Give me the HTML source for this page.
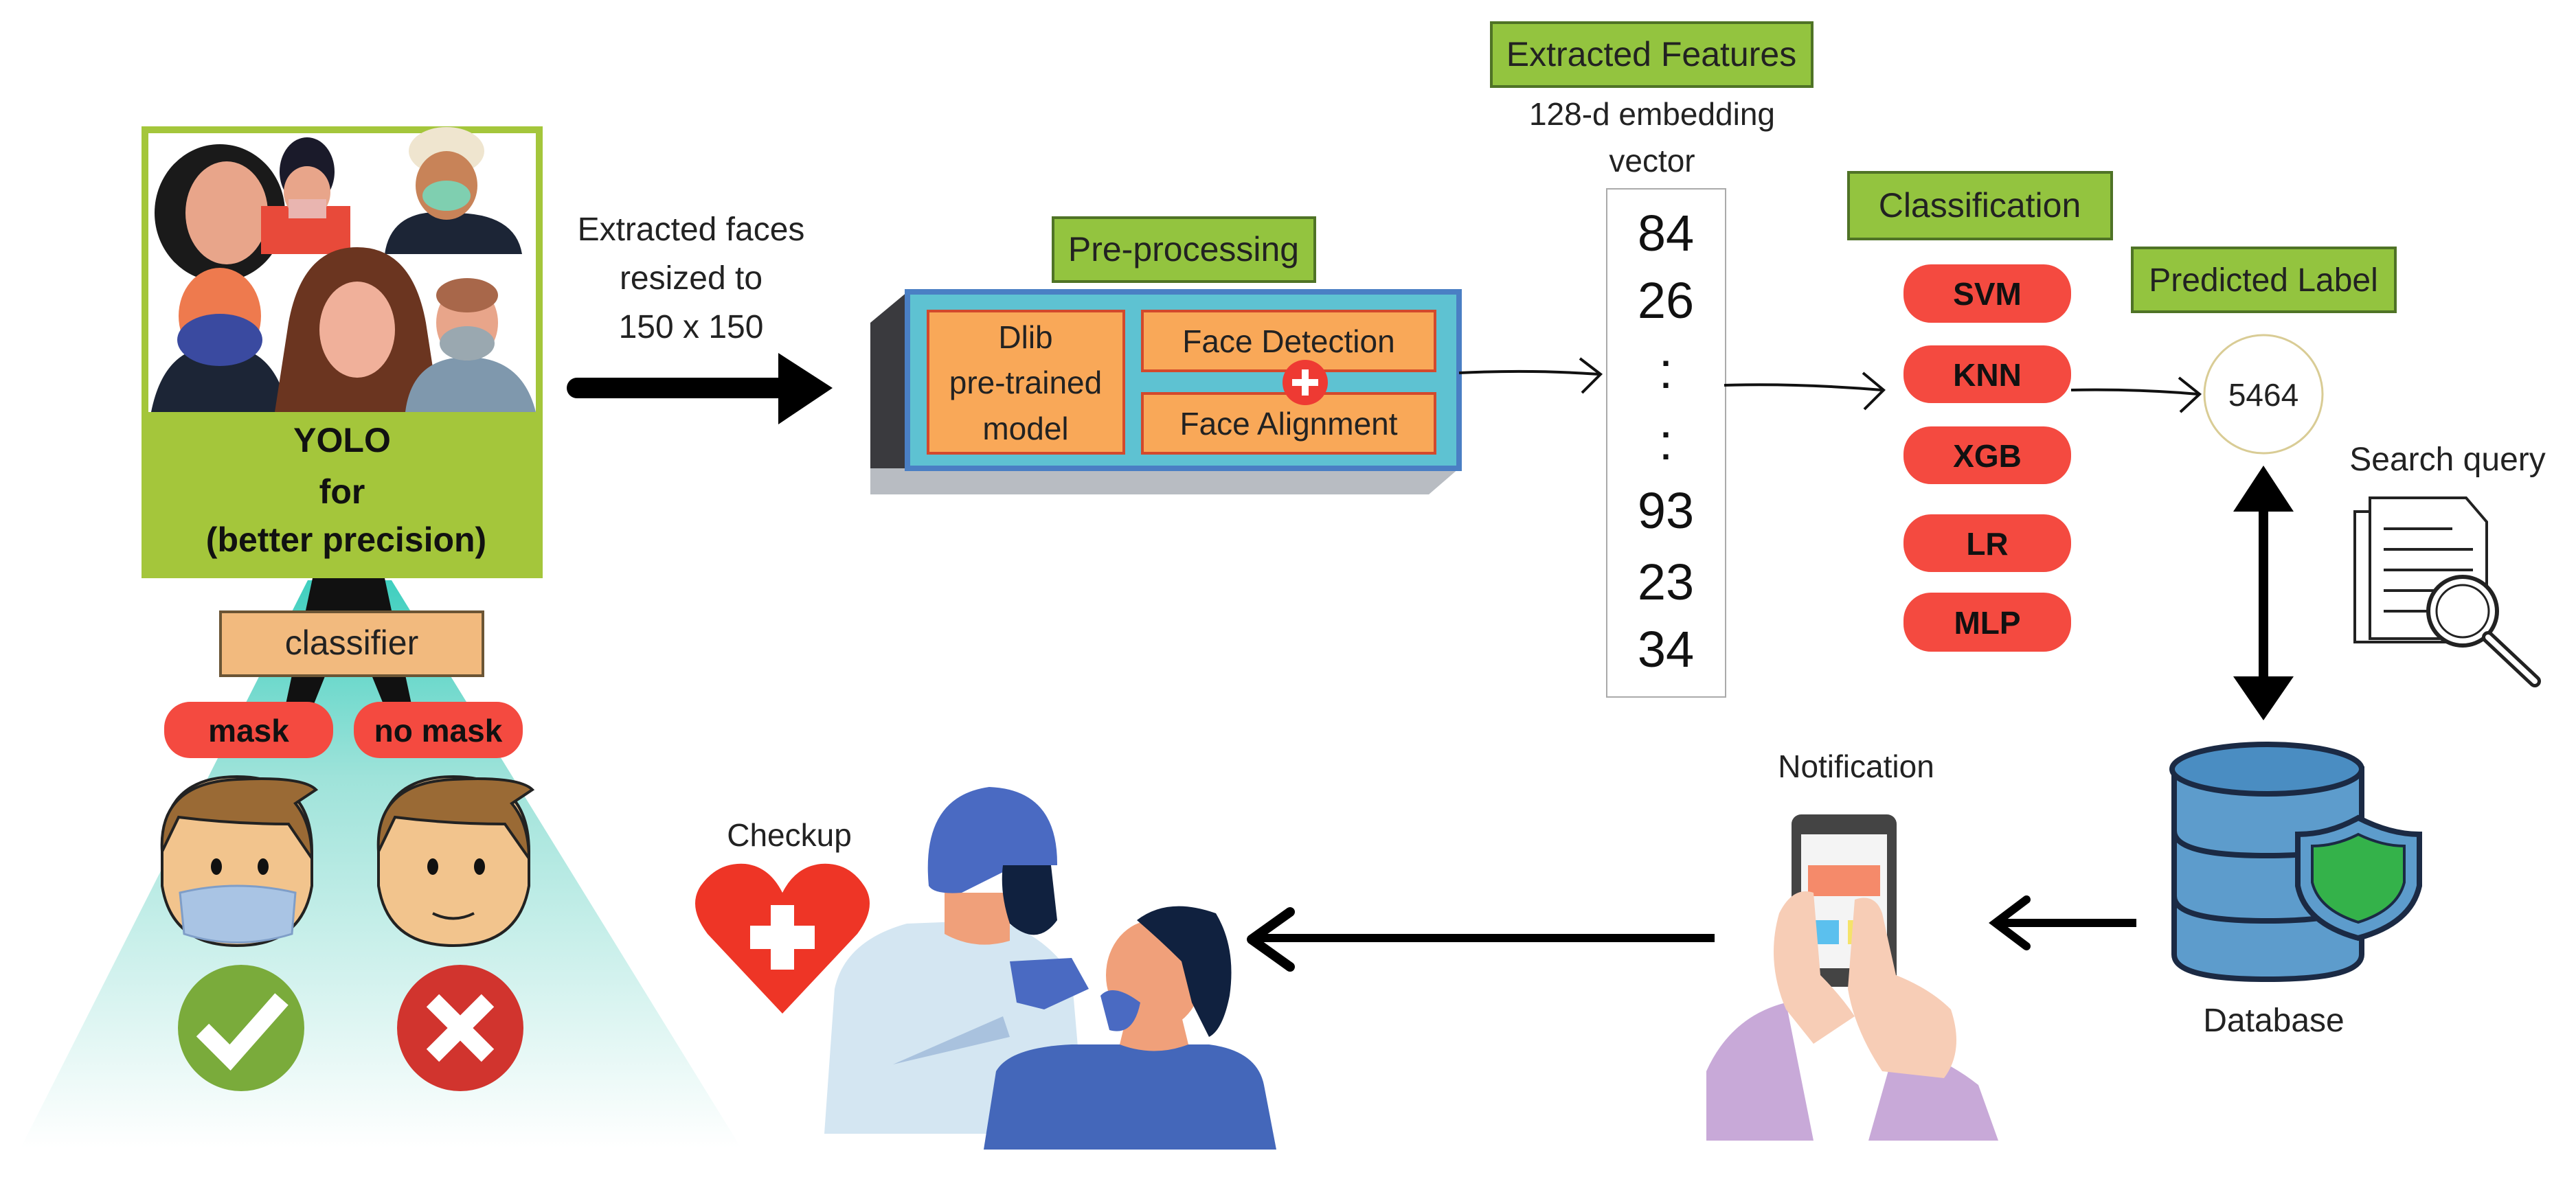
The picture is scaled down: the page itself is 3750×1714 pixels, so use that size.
<!DOCTYPE html>
<html><head><meta charset="utf-8"><style>
html,body{margin:0;padding:0;background:#fff;}
svg{display:block;}
text{font-family:"Liberation Sans",sans-serif;}
</style></head><body>
<svg width="3750" height="1714" viewBox="0 0 3750 1714" xmlns="http://www.w3.org/2000/svg">
<defs>
<linearGradient id="teal" x1="0" y1="0" x2="0" y2="1">
<stop offset="0" stop-color="#3fcfbf"/><stop offset="0.35" stop-color="#9fe3da"/><stop offset="1" stop-color="#ffffff"/>
</linearGradient>
</defs>
<rect width="3750" height="1714" fill="#fff"/>

<!-- teal trapezoid -->
<polygon points="448,845 570,845 1079,1672 30,1672" fill="url(#teal)"/>
<!-- black A lines -->
<polygon points="455,842 560,842 600,1030 560,1030 507,900 455,1030 415,1030" fill="#111"/>

<!-- YOLO box -->
<rect x="206" y="184" width="584" height="658" fill="#a4c63b"/>
<rect x="216" y="194" width="564" height="406" fill="#fff"/>
<!-- faces (simplified) -->
<g>
<ellipse cx="320" cy="310" rx="95" ry="100" fill="#1a1a1a"/>
<ellipse cx="330" cy="310" rx="60" ry="75" fill="#e8a58a"/>
<rect x="380" y="300" width="130" height="70" fill="#e84a3a"/>
<ellipse cx="447" cy="250" rx="40" ry="50" fill="#1a1a2a"/>
<ellipse cx="447" cy="280" rx="34" ry="38" fill="#e8a58a"/>
<rect x="420" y="290" width="55" height="28" fill="#e9b5b0"/>
<path d="M560 370 Q570 300 660 310 Q750 310 760 370 Z" fill="#1c2536"/>
<ellipse cx="650" cy="220" rx="55" ry="35" fill="#efe5cf"/>
<ellipse cx="650" cy="270" rx="45" ry="50" fill="#c88358"/>
<ellipse cx="650" cy="285" rx="35" ry="22" fill="#7fcfb0"/>
<path d="M220 600 Q240 500 320 505 Q400 500 420 600 Z" fill="#1c2536"/>
<ellipse cx="320" cy="460" rx="60" ry="70" fill="#ee7a4e"/>
<ellipse cx="320" cy="495" rx="62" ry="38" fill="#3a4aa0"/>
<path d="M400 600 L420 470 Q440 360 520 360 Q600 360 620 470 L640 600 Z" fill="#6b3520"/>
<ellipse cx="520" cy="480" rx="55" ry="70" fill="#f0b09a"/>
<path d="M590 600 Q600 520 680 520 Q760 520 780 600 Z" fill="#7f98ad"/>
<ellipse cx="680" cy="470" rx="45" ry="55" fill="#e8a58a"/>
<ellipse cx="680" cy="430" rx="45" ry="25" fill="#a8674a"/>
<ellipse cx="680" cy="500" rx="40" ry="25" fill="#9aa8b0"/>
</g>
<text x="498" y="658" font-size="50" font-weight="bold" text-anchor="middle" fill="#111">YOLO</text>
<text x="498" y="733" font-size="50" font-weight="bold" text-anchor="middle" fill="#111">for</text>
<text x="504" y="803" font-size="50" font-weight="bold" text-anchor="middle" fill="#111">(better precision)</text>

<!-- classifier -->
<rect x="321" y="891" width="382" height="93" fill="#f2ba7e" stroke="#6b5535" stroke-width="4"/>
<text x="512" y="953" font-size="50" text-anchor="middle" fill="#222">classifier</text>
<rect x="239" y="1022" width="246" height="82" rx="38" fill="#f44a40"/>
<text x="362" y="1080" font-size="46" font-weight="bold" text-anchor="middle" fill="#111">mask</text>
<rect x="515" y="1022" width="246" height="82" rx="38" fill="#f44a40"/>
<text x="638" y="1080" font-size="46" font-weight="bold" text-anchor="middle" fill="#111">no mask</text>

<!-- cartoon heads -->
<g>
<path d="M236 1240 Q236 1131 345 1131 Q454 1131 454 1240 L454 1290 Q440 1377 345 1377 Q250 1377 236 1290 Z" fill="#f2c48d" stroke="#222" stroke-width="4"/>
<path d="M236 1240 Q230 1140 345 1135 Q440 1130 460 1150 L430 1170 Q454 1200 454 1250 L420 1200 Q340 1200 260 1190 Z" fill="#9a6a35" stroke="#222" stroke-width="4"/>
<ellipse cx="315" cy="1262" rx="8" ry="12" fill="#111"/><ellipse cx="383" cy="1262" rx="8" ry="12" fill="#111"/>
<path d="M262 1300 Q345 1280 430 1300 L425 1360 Q345 1385 268 1360 Z" fill="#a9c4e4" stroke="#7f9ec8" stroke-width="3"/>
<path d="M551 1240 Q551 1131 660 1131 Q770 1131 770 1240 L770 1290 Q755 1377 660 1377 Q565 1377 551 1290 Z" fill="#f2c48d" stroke="#222" stroke-width="4"/>
<path d="M551 1240 Q545 1140 660 1135 Q755 1130 775 1150 L745 1170 Q770 1200 770 1250 L735 1200 Q655 1200 575 1190 Z" fill="#9a6a35" stroke="#222" stroke-width="4"/>
<ellipse cx="630" cy="1262" rx="8" ry="12" fill="#111"/><ellipse cx="698" cy="1262" rx="8" ry="12" fill="#111"/>
<path d="M630 1330 Q660 1345 690 1330" fill="none" stroke="#222" stroke-width="4"/>
</g>
<!-- check/cross -->
<circle cx="351" cy="1497" r="92" fill="#7aab3b"/>
<path d="M295 1500 L335 1540 L410 1455" fill="none" stroke="#fff" stroke-width="26"/>
<circle cx="670" cy="1497" r="92" fill="#d1342e"/>
<path d="M630 1457 L710 1537 M710 1457 L630 1537" stroke="#fff" stroke-width="26"/>

<!-- arrow 1 -->
<text x="1006" y="350" font-size="48" text-anchor="middle" fill="#222">Extracted faces</text>
<text x="1006" y="421" font-size="48" text-anchor="middle" fill="#222">resized to</text>
<text x="1006" y="492" font-size="48" text-anchor="middle" fill="#222">150 x 150</text>
<line x1="840" y1="565" x2="1140" y2="565" stroke="#000" stroke-width="30" stroke-linecap="round"/>
<polygon points="1133,514 1212,565 1133,618" fill="#000"/>

<!-- pre-processing -->
<rect x="1533" y="317" width="381" height="93" fill="#93c43f" stroke="#4f7326" stroke-width="4"/>
<text x="1723" y="380" font-size="50" text-anchor="middle" fill="#222">Pre-processing</text>
<polygon points="1267,470 1321,425 1321,682 1267,720" fill="#3a3a3e"/>
<polygon points="1267,720 1321,682 2124,682 2080,720" fill="#b8bcc2"/>
<rect x="1267" y="682" width="813" height="38" fill="#b8bcc2"/>
<rect x="1321" y="425" width="803" height="257" fill="#5ec2d2" stroke="#4a7fc4" stroke-width="8"/>
<rect x="1351" y="453" width="285" height="207" fill="#f9a858" stroke="#d3492c" stroke-width="4"/>
<text x="1493" y="507" font-size="46" text-anchor="middle" fill="#222">Dlib</text>
<text x="1493" y="573" font-size="46" text-anchor="middle" fill="#222">pre-trained</text>
<text x="1493" y="640" font-size="46" text-anchor="middle" fill="#222">model</text>
<rect x="1663" y="453" width="426" height="87" fill="#f9a858" stroke="#d3492c" stroke-width="4"/>
<text x="1876" y="513" font-size="46" text-anchor="middle" fill="#222">Face Detection</text>
<rect x="1663" y="573" width="426" height="87" fill="#f9a858" stroke="#d3492c" stroke-width="4"/>
<text x="1876" y="633" font-size="46" text-anchor="middle" fill="#222">Face Alignment</text>
<circle cx="1900" cy="557" r="33" fill="#ee3a33"/>
<path d="M1900 538 V576 M1881 557 H1919" stroke="#fff" stroke-width="10"/>

<!-- arrow to vector -->
<path d="M2124 543 Q2230 538 2328 545" fill="none" stroke="#111" stroke-width="4"/>
<path d="M2300 522 L2330 545 L2303 572" fill="none" stroke="#111" stroke-width="4"/>

<!-- Extracted Features -->
<rect x="2171" y="33" width="467" height="93" fill="#93c43f" stroke="#4f7326" stroke-width="4"/>
<text x="2404" y="96" font-size="50" text-anchor="middle" fill="#222">Extracted Features</text>
<text x="2405" y="182" font-size="46" text-anchor="middle" fill="#222">128-d embedding</text>
<text x="2405" y="250" font-size="46" text-anchor="middle" fill="#222">vector</text>
<rect x="2339" y="275" width="173" height="740" fill="#fff" stroke="#aaa" stroke-width="2"/>
<g font-size="74" text-anchor="middle" fill="#111">
<text x="2425" y="365">84</text>
<text x="2425" y="463">26</text>
<text x="2425" y="565">:</text>
<text x="2425" y="669">:</text>
<text x="2425" y="769">93</text>
<text x="2425" y="873">23</text>
<text x="2425" y="971">34</text>
</g>

<!-- arrow to classification -->
<path d="M2510 561 Q2620 558 2740 568" fill="none" stroke="#111" stroke-width="4"/>
<path d="M2712 543 L2742 568 L2714 596" fill="none" stroke="#111" stroke-width="4"/>

<rect x="2691" y="251" width="383" height="97" fill="#93c43f" stroke="#4f7326" stroke-width="4"/>
<text x="2882" y="316" font-size="50" text-anchor="middle" fill="#222">Classification</text>
<g fill="#f44a40">
<rect x="2771" y="385" width="244" height="85" rx="40"/>
<rect x="2771" y="503" width="244" height="84" rx="40"/>
<rect x="2771" y="621" width="244" height="84" rx="40"/>
<rect x="2771" y="749" width="244" height="84" rx="40"/>
<rect x="2771" y="863" width="244" height="86" rx="40"/>
</g>
<g font-size="46" font-weight="bold" text-anchor="middle" fill="#111">
<text x="2893" y="444">SVM</text>
<text x="2893" y="562">KNN</text>
<text x="2893" y="680">XGB</text>
<text x="2893" y="808">LR</text>
<text x="2893" y="923">MLP</text>
</g>

<rect x="3104" y="361" width="383" height="93" fill="#93c43f" stroke="#4f7326" stroke-width="4"/>
<text x="3295" y="424" font-size="48" text-anchor="middle" fill="#222">Predicted Label</text>
<path d="M3015 568 Q3110 566 3200 574" fill="none" stroke="#111" stroke-width="4"/>
<path d="M3172 550 L3202 574 L3174 600" fill="none" stroke="#111" stroke-width="4"/>
<circle cx="3295" cy="574" r="86" fill="#fff" stroke="#d9cc95" stroke-width="3"/>
<text x="3295" y="591" font-size="46" text-anchor="middle" fill="#222">5464</text>

<!-- double arrow -->
<line x1="3295" y1="735" x2="3295" y2="995" stroke="#000" stroke-width="14"/>
<polygon points="3251,745 3295,678 3339,745" fill="#000"/>
<polygon points="3251,985 3295,1049 3339,985" fill="#000"/>

<text x="3563" y="685" font-size="48" text-anchor="middle" fill="#222">Search query</text>
<!-- doc icon -->
<g fill="#fff" stroke="#222" stroke-width="4">
<rect x="3428" y="745" width="150" height="190"/>
<path d="M3450 725 L3590 725 L3620 760 L3620 930 L3450 930 Z"/>
</g>
<g stroke="#222" stroke-width="4">
<line x1="3470" y1="770" x2="3570" y2="770"/><line x1="3470" y1="800" x2="3600" y2="800"/>
<line x1="3470" y1="830" x2="3600" y2="830"/><line x1="3470" y1="860" x2="3560" y2="860"/>
<line x1="3470" y1="890" x2="3540" y2="890"/>
</g>
<circle cx="3585" cy="890" r="50" fill="#fff" stroke="#222" stroke-width="6"/>
<circle cx="3585" cy="890" r="38" fill="none" stroke="#222" stroke-width="3"/>
<line x1="3622" y1="928" x2="3690" y2="992" stroke="#222" stroke-width="18" stroke-linecap="round"/>
<line x1="3622" y1="928" x2="3690" y2="992" stroke="#fff" stroke-width="8" stroke-linecap="round"/>

<!-- database -->
<g stroke="#1b2a44" stroke-width="8">
<path d="M3165 1120 L3165 1390 Q3165 1426 3300 1426 Q3438 1426 3438 1390 L3438 1120 Z" fill="#5d9ccc"/>
<ellipse cx="3300" cy="1120" rx="138" ry="36" fill="#4a8dc2"/>
<path d="M3165 1210 Q3165 1246 3300 1246 Q3438 1246 3438 1210" fill="none"/>
<path d="M3165 1305 Q3165 1341 3300 1341 Q3438 1341 3438 1305" fill="none"/>
<path d="M3433 1191 Q3480 1215 3522 1215 L3522 1290 Q3510 1345 3433 1366 Q3356 1345 3345 1290 L3345 1215 Q3390 1215 3433 1191 Z" fill="#5d9ccc"/>
<path d="M3433 1215 Q3468 1232 3500 1232 L3500 1285 Q3490 1325 3433 1343 Q3376 1325 3366 1285 L3366 1232 Q3400 1232 3433 1215 Z" fill="#34b24a" stroke-width="4"/>
</g>
<text x="3310" y="1502" font-size="48" text-anchor="middle" fill="#222">Database</text>

<!-- arrow db to phone -->
<line x1="3110" y1="1344" x2="2905" y2="1344" stroke="#000" stroke-width="12"/>
<path d="M2950 1310 L2905 1344 L2950 1378" fill="none" stroke="#000" stroke-width="12" stroke-linecap="round"/>

<text x="2702" y="1132" font-size="46" text-anchor="middle" fill="#222">Notification</text>
<!-- phone + hands -->
<path d="M2484 1661 L2484 1560 Q2520 1480 2600 1460 L2640 1661 Z" fill="#c8a9d8"/>
<path d="M2720 1661 L2760 1520 Q2830 1540 2880 1580 L2909 1661 Z" fill="#c8a9d8"/>
<rect x="2608" y="1186" width="153" height="251" rx="14" fill="#444"/>
<rect x="2622" y="1215" width="125" height="195" fill="#f4f4f4"/>
<rect x="2632" y="1260" width="105" height="45" fill="#f58a6a"/>
<rect x="2632" y="1340" width="45" height="35" fill="#5bc0ee"/>
<rect x="2690" y="1340" width="45" height="35" fill="#f5e36a"/>
<path d="M2600 1470 Q2570 1400 2590 1330 Q2610 1290 2640 1300 L2650 1420 Q2680 1450 2700 1480 L2640 1520 Z" fill="#f7cdb6"/>
<path d="M2700 1310 Q2730 1300 2740 1330 L2760 1420 Q2810 1440 2840 1470 Q2860 1530 2830 1570 L2740 1560 Q2700 1500 2690 1440 Z" fill="#f7cdb6"/>

<!-- long arrow -->
<line x1="2496" y1="1366" x2="1830" y2="1366" stroke="#000" stroke-width="12"/>
<path d="M1878 1328 L1822 1368 L1878 1408" fill="none" stroke="#000" stroke-width="14" stroke-linecap="round" stroke-linejoin="round"/>

<!-- checkup -->
<text x="1149" y="1232" font-size="46" text-anchor="middle" fill="#222">Checkup</text>
<path d="M1139 1476 L1030 1360 Q1000 1320 1020 1290 Q1045 1255 1085 1258 Q1120 1262 1139 1300 Q1158 1262 1195 1258 Q1235 1255 1258 1290 Q1278 1320 1248 1360 Z" fill="#ee3526"/>
<path d="M1139 1318 V1412 M1092 1365 H1186" stroke="#fff" stroke-width="34"/>

<!-- doctor & patient -->
<path d="M1200 1651 L1215 1440 Q1230 1370 1320 1345 L1450 1340 Q1520 1360 1560 1420 L1580 1651 Z" fill="#d4e6f2"/>
<path d="M1300 1550 L1460 1480 L1470 1510 Z" fill="#a9c2de"/>
<path d="M1375 1360 L1375 1300 L1470 1300 L1470 1370 Q1420 1385 1375 1360 Z" fill="#f0a07a"/>
<path d="M1352 1290 Q1340 1160 1440 1146 Q1540 1150 1539 1260 L1480 1260 L1400 1300 Q1360 1303 1352 1290 Z" fill="#4a6ac2"/>
<path d="M1460 1260 L1530 1260 L1539 1340 Q1510 1380 1470 1345 Q1455 1300 1460 1260 Z" fill="#10213f"/>
<path d="M1470 1400 L1560 1395 L1585 1440 L1520 1470 L1480 1460 Z" fill="#4a6ac2"/>
<path d="M1432 1674 L1450 1560 Q1470 1525 1560 1521 L1760 1521 Q1830 1530 1840 1580 L1858 1674 Z" fill="#4467ba"/>
<path d="M1630 1521 L1640 1480 L1720 1480 L1730 1521 Q1680 1540 1630 1521 Z" fill="#f0a07a"/>
<ellipse cx="1680" cy="1420" rx="70" ry="80" fill="#f0a07a"/>
<path d="M1655 1340 Q1700 1305 1770 1330 Q1800 1380 1790 1450 Q1780 1500 1760 1510 L1735 1460 L1720 1400 Q1690 1370 1655 1340 Z" fill="#10213f"/>
<path d="M1602 1450 Q1620 1430 1660 1460 Q1650 1510 1615 1500 Z" fill="#4a6ac2"/>
</svg>
</body></html>
